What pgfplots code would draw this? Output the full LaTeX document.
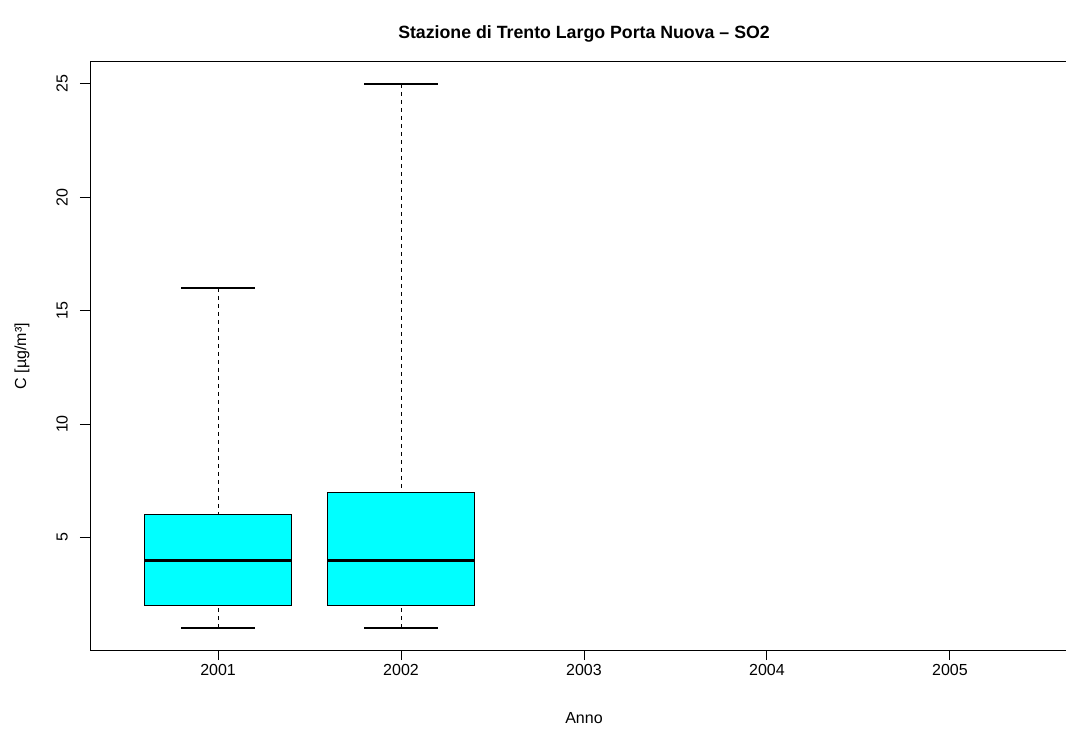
\documentclass[border=0pt]{standalone}
\usepackage{fontspec}
\setmainfont{Liberation Sans}
\usepackage{pgfplots}
\pgfplotsset{compat=1.18}
\usepgfplotslibrary{statistics}
\definecolor{rcyan}{RGB}{0,255,255}
\begin{document}
\fontsize{12}{14}\selectfont
\begin{tikzpicture}
\useasboundingbox (0,0) rectangle (799.5pt,546.75pt);
\begin{axis}[
  anchor=south west, at={(67.5pt,59.25pt)},
  scale only axis, width=741pt, height=441pt,
  xmin=0.3, xmax=5.7, ymin=0.04, ymax=25.96,
  xtick={1,2,3,4,5}, xticklabels={2001,2002,2003,2004,2005},
  ytick={5,10,15,20,25},
  xtick pos=bottom, ytick pos=left,
  tick align=outside, major tick length=7.5pt,
  every tick/.style={black, line width=0.75pt},
  axis line style={line width=0.75pt},
  /pgf/number format/assume math mode=true,
  ticklabel style={font=\fontsize{12}{14}\selectfont},
  yticklabel style={rotate=90, anchor=south, yshift=5pt},
  xticklabel style={yshift=1pt},
  title={Stazione di Trento Largo Porta Nuova – SO2},
  title style={at={(axis description cs:0.5,1)}, anchor=center, yshift=15pt, font=\bfseries\fontsize{13.3}{15}\selectfont},
  xlabel={Anno}, ylabel={C [µg/m³]},
  every axis x label/.style={at={([yshift=-51pt]axis description cs:0.5,0)}, anchor=center, font=\fontsize{12}{14}\selectfont},
  every axis y label/.style={at={([xshift=-51pt]axis description cs:0,0.5)}, rotate=90, anchor=center, font=\fontsize{12}{14}\selectfont},
  boxplot/draw direction=y,
  boxplot/box extend=0.8,
  boxplot/whisker extend=0.4,
  boxplot/draw/box/.code={%
    \draw[line width=0.75pt, fill=rcyan]
      (boxplot box cs:\pgfplotsboxplotvalue{lower quartile},0) rectangle
      (boxplot box cs:\pgfplotsboxplotvalue{upper quartile},1);},
  boxplot/draw/median/.code={%
    \draw[line width=2.25pt]
      (boxplot box cs:\pgfplotsboxplotvalue{median},0) --
      (boxplot box cs:\pgfplotsboxplotvalue{median},1);},
  boxplot/draw/lower whisker/.code={%
    \draw[line width=0.75pt, dash pattern=on 3pt off 3pt]
      (boxplot box cs:\pgfplotsboxplotvalue{lower whisker},0.5) --
      (boxplot box cs:\pgfplotsboxplotvalue{lower quartile},0.5);
    \draw[line width=1.5pt]
      (boxplot whisker cs:\pgfplotsboxplotvalue{lower whisker},0) --
      (boxplot whisker cs:\pgfplotsboxplotvalue{lower whisker},1);},
  boxplot/draw/upper whisker/.code={%
    \draw[line width=0.75pt, dash pattern=on 3pt off 3pt]
      (boxplot box cs:\pgfplotsboxplotvalue{upper whisker},0.5) --
      (boxplot box cs:\pgfplotsboxplotvalue{upper quartile},0.5);
    \draw[line width=1.5pt]
      (boxplot whisker cs:\pgfplotsboxplotvalue{upper whisker},0) --
      (boxplot whisker cs:\pgfplotsboxplotvalue{upper whisker},1);},
]
\addplot[black, boxplot prepared={draw position=1,
  lower whisker=1, lower quartile=2, median=4, upper quartile=6, upper whisker=16}]
  coordinates {};
\addplot[black, boxplot prepared={draw position=2,
  lower whisker=1, lower quartile=2, median=4, upper quartile=7, upper whisker=25}]
  coordinates {};
\end{axis}
\end{tikzpicture}
\end{document}
